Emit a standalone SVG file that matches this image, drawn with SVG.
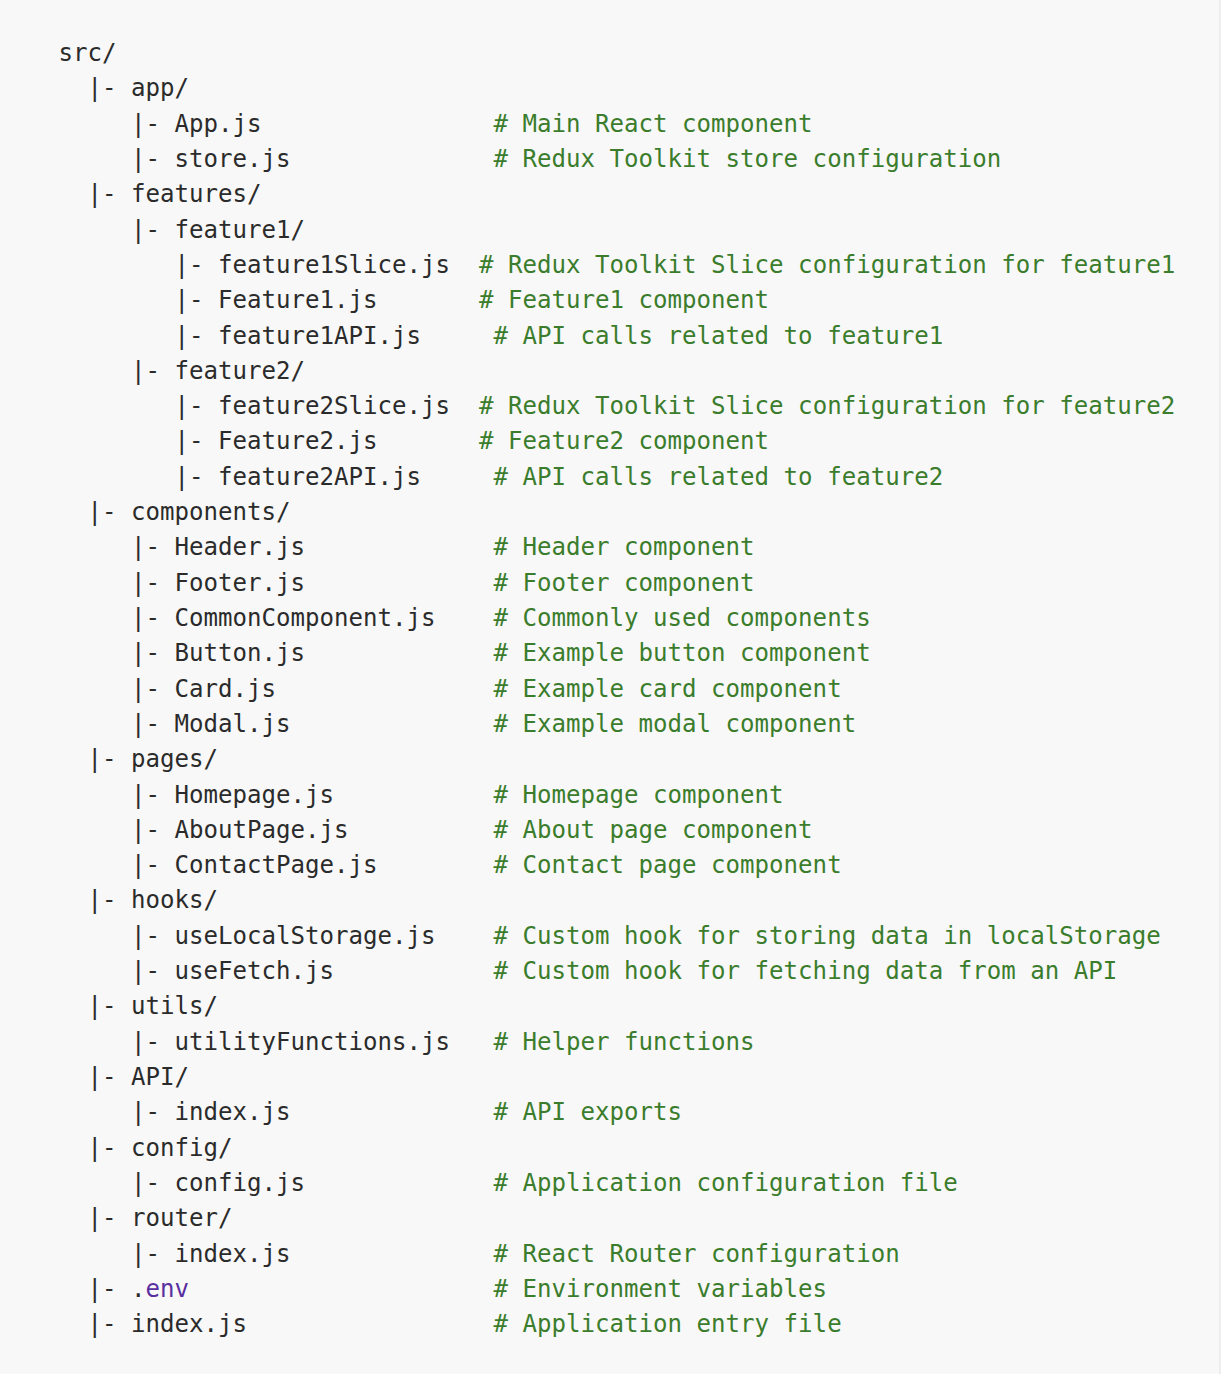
<svg xmlns="http://www.w3.org/2000/svg" width="1221" height="1374" viewBox="0 0 1221 1374">
<style>
text{font-family:"DejaVu Sans Mono","Liberation Mono",monospace;font-size:24.1px;fill:#2b2b2b}
.c{fill:#3b7d2c}
.v{fill:#5a2fa0}
</style>
<rect x="0" y="0" width="1221" height="1374" fill="#f8f8f8"/>
<line x1="1220" y1="0" x2="1220" y2="1374" stroke="#e4e4e4" stroke-width="1"/>
<g id="tree" transform="translate(1.5,0)">
<g id="l0"><text x="57" y="61">src/</text></g>
<g id="l1"><text x="86" y="96.3">|- app/</text></g>
<g id="l2"><text x="129.5" y="131.6">|- App.js</text><text class="c" x="492" y="131.6"># Main React component</text></g>
<g id="l3"><text x="129.5" y="166.9">|- store.js</text><text class="c" x="492" y="166.9"># Redux Toolkit store configuration</text></g>
<g id="l4"><text x="86" y="202.2">|- features/</text></g>
<g id="l5"><text x="129.5" y="237.6">|- feature1/</text></g>
<g id="l6"><text x="173" y="272.9">|- feature1Slice.js</text><text class="c" x="477.5" y="272.9"># Redux Toolkit Slice configuration for feature1</text></g>
<g id="l7"><text x="173" y="308.2">|- Feature1.js</text><text class="c" x="477.5" y="308.2"># Feature1 component</text></g>
<g id="l8"><text x="173" y="343.5">|- feature1API.js</text><text class="c" x="492" y="343.5"># API calls related to feature1</text></g>
<g id="l9"><text x="129.5" y="378.8">|- feature2/</text></g>
<g id="l10"><text x="173" y="414.1">|- feature2Slice.js</text><text class="c" x="477.5" y="414.1"># Redux Toolkit Slice configuration for feature2</text></g>
<g id="l11"><text x="173" y="449.4">|- Feature2.js</text><text class="c" x="477.5" y="449.4"># Feature2 component</text></g>
<g id="l12"><text x="173" y="484.7">|- feature2API.js</text><text class="c" x="492" y="484.7"># API calls related to feature2</text></g>
<g id="l13"><text x="86" y="520">|- components/</text></g>
<g id="l14"><text x="129.5" y="555.3">|- Header.js</text><text class="c" x="492" y="555.3"># Header component</text></g>
<g id="l15"><text x="129.5" y="590.6">|- Footer.js</text><text class="c" x="492" y="590.6"># Footer component</text></g>
<g id="l16"><text x="129.5" y="626">|- CommonComponent.js</text><text class="c" x="492" y="626"># Commonly used components</text></g>
<g id="l17"><text x="129.5" y="661.3">|- Button.js</text><text class="c" x="492" y="661.3"># Example button component</text></g>
<g id="l18"><text x="129.5" y="696.6">|- Card.js</text><text class="c" x="492" y="696.6"># Example card component</text></g>
<g id="l19"><text x="129.5" y="731.9">|- Modal.js</text><text class="c" x="492" y="731.9"># Example modal component</text></g>
<g id="l20"><text x="86" y="767.2">|- pages/</text></g>
<g id="l21"><text x="129.5" y="802.5">|- Homepage.js</text><text class="c" x="492" y="802.5"># Homepage component</text></g>
<g id="l22"><text x="129.5" y="837.8">|- AboutPage.js</text><text class="c" x="492" y="837.8"># About page component</text></g>
<g id="l23"><text x="129.5" y="873.1">|- ContactPage.js</text><text class="c" x="492" y="873.1"># Contact page component</text></g>
<g id="l24"><text x="86" y="908.4">|- hooks/</text></g>
<g id="l25"><text x="129.5" y="943.8">|- useLocalStorage.js</text><text class="c" x="492" y="943.8"># Custom hook for storing data in localStorage</text></g>
<g id="l26"><text x="129.5" y="979.1">|- useFetch.js</text><text class="c" x="492" y="979.1"># Custom hook for fetching data from an API</text></g>
<g id="l27"><text x="86" y="1014.4">|- utils/</text></g>
<g id="l28"><text x="129.5" y="1049.7">|- utilityFunctions.js</text><text class="c" x="492" y="1049.7"># Helper functions</text></g>
<g id="l29"><text x="86" y="1085">|- API/</text></g>
<g id="l30"><text x="129.5" y="1120.3">|- index.js</text><text class="c" x="492" y="1120.3"># API exports</text></g>
<g id="l31"><text x="86" y="1155.6">|- config/</text></g>
<g id="l32"><text x="129.5" y="1190.9">|- config.js</text><text class="c" x="492" y="1190.9"># Application configuration file</text></g>
<g id="l33"><text x="86" y="1226.2">|- router/</text></g>
<g id="l34"><text x="129.5" y="1261.6">|- index.js</text><text class="c" x="492" y="1261.6"># React Router configuration</text></g>
<g id="l35"><text x="86" y="1296.9">|- .<tspan class="v">env</tspan></text><text class="c" x="492" y="1296.9"># Environment variables</text></g>
<g id="l36"><text x="86" y="1332.2">|- index.js</text><text class="c" x="492" y="1332.2"># Application entry file</text></g>
</g>
</svg>
